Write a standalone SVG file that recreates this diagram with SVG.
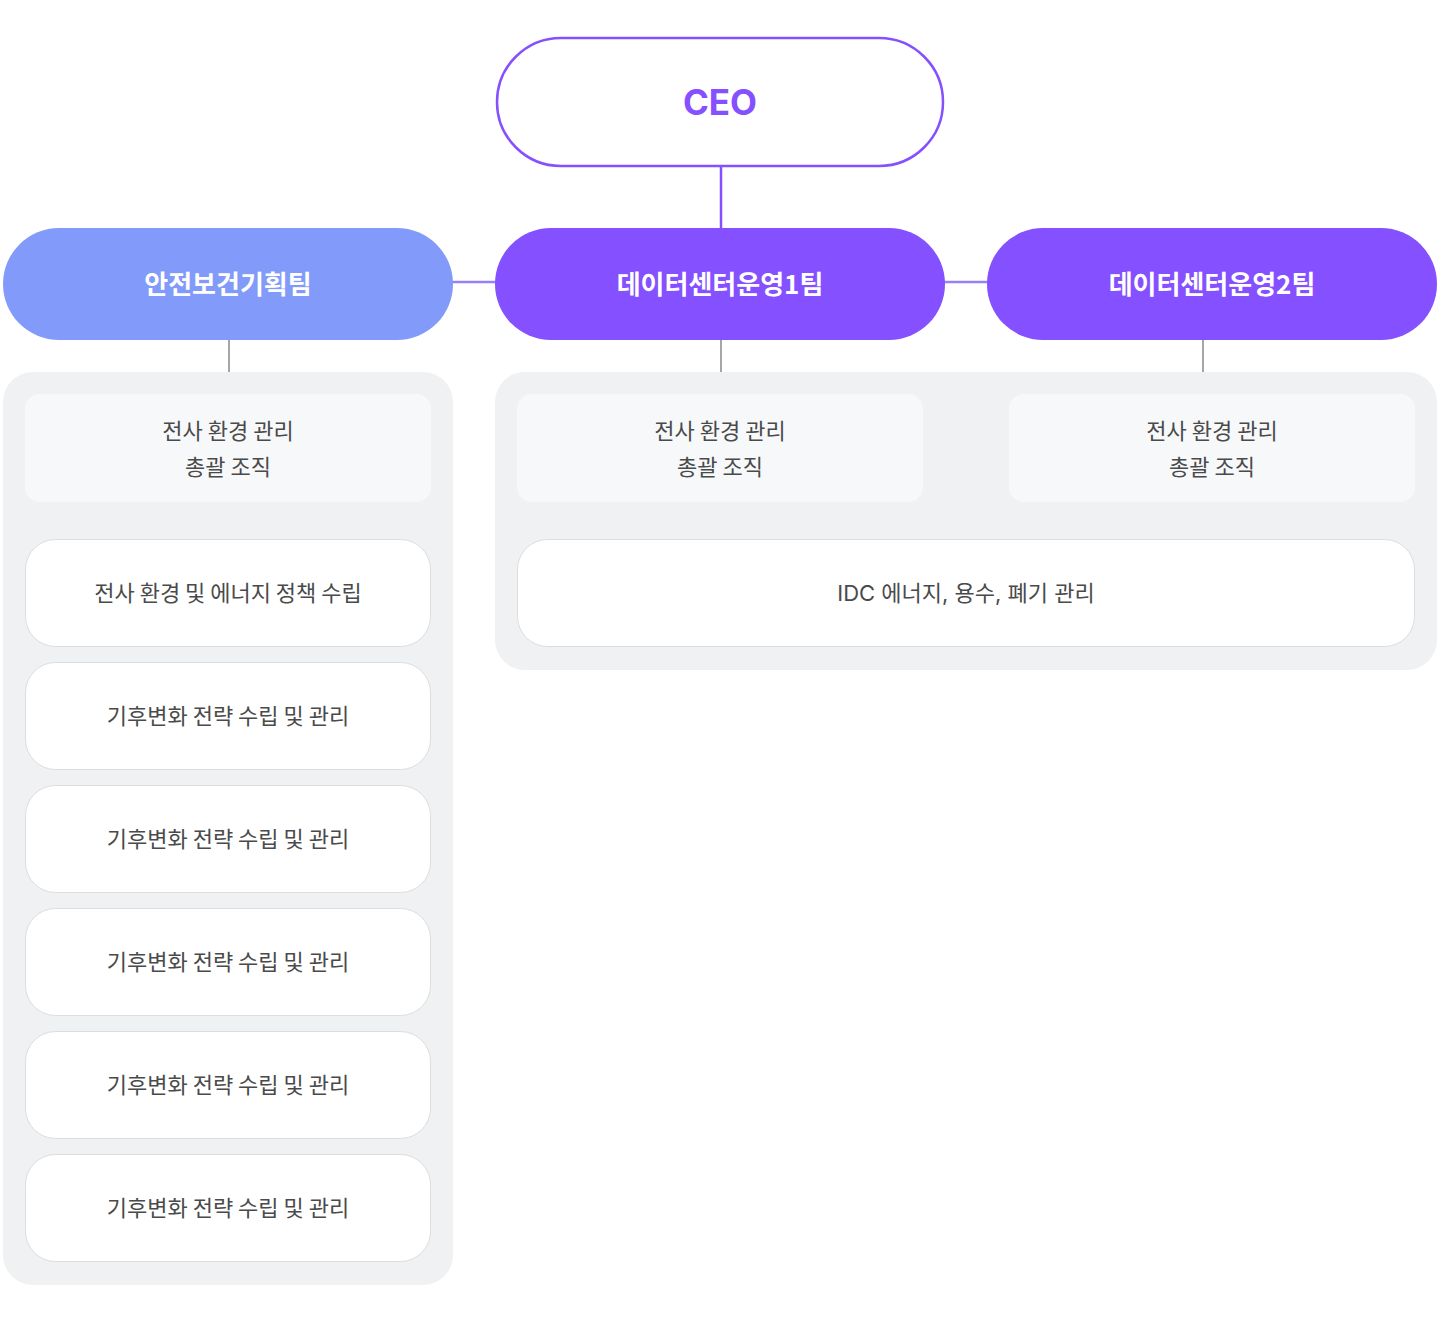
<svg xmlns="http://www.w3.org/2000/svg" width="1440" height="1321" viewBox="0 0 1440 1321">
<style>
.team{font-family:"Noto Sans CJK KR","Noto Sans",sans-serif;font-weight:700;font-size:26px;fill:#ffffff;text-anchor:middle}
.ceo{font-family:Inter,"Noto Sans",sans-serif;font-weight:700;font-size:35px;fill:#8550FF;text-anchor:middle}
.t{font-family:"Noto Sans CJK KR","Noto Sans",sans-serif;font-size:22px;fill:#4a4a4a;text-anchor:middle}
.idc{font-family:Inter,"Noto Sans CJK KR",sans-serif;font-size:22px;fill:#4a4a4a;text-anchor:middle}
.cont{fill:#F0F1F3}
.inner{fill:#F7F8FA}
.item{fill:#ffffff;stroke:#DCDDE0;stroke-width:1}
.cp{stroke:#8550FF;stroke-width:2.5;fill:none}
.ch{stroke:#9A80F5;stroke-width:2.5;fill:none}
.cg{stroke:#888888;stroke-width:1.5;fill:none}
</style>
<g id="connectors">
<line class="cp" x1="721" y1="166" x2="721" y2="229"/>
<line class="ch" x1="452" y1="282" x2="497" y2="282"/>
<line class="ch" x1="944" y1="282" x2="989" y2="282"/>
<line class="cg" x1="229" y1="339" x2="229" y2="373"/>
<line class="cg" x1="721" y1="339" x2="721" y2="373"/>
<line class="cg" x1="1203" y1="339" x2="1203" y2="373"/>
</g>
<g id="ceo">
<rect x="497" y="38" width="446" height="128" rx="64" fill="#ffffff" stroke="#8550FF" stroke-width="2.5"/>
<text class="ceo" x="720" y="114.5">CEO</text>
</g>
<g id="team-safety">
<rect x="3" y="228" width="450" height="112" rx="56" fill="#829BFA"/>
<text class="team" x="228" y="294">안전보건기획팀</text>
</g>
<g id="team-dc1">
<rect x="495" y="228" width="450" height="112" rx="56" fill="#8550FF"/>
<text class="team" x="720" y="294">데이터센터운영1팀</text>
</g>
<g id="team-dc2">
<rect x="987" y="228" width="450" height="112" rx="56" fill="#8550FF"/>
<text class="team" x="1212" y="294">데이터센터운영2팀</text>
</g>
<g id="group-safety">
<rect class="cont" x="3" y="372" width="450" height="913" rx="30"/>
<g id="safety-role">
<rect class="inner" x="25" y="394" width="406" height="108" rx="15"/>
<text class="t" x="228" y="439">전사 환경 관리</text>
<text class="t" x="228" y="475">총괄 조직</text>
</g>
<g id="safety-task1">
<rect class="item" x="25.5" y="539.5" width="405" height="107" rx="30"/>
<text class="t" x="228" y="601">전사 환경 및 에너지 정책 수립</text>
</g>
<g id="safety-task2">
<rect class="item" x="25.5" y="662.5" width="405" height="107" rx="30"/>
<text class="t" x="228" y="724">기후변화 전략 수립 및 관리</text>
</g>
<g id="safety-task3">
<rect class="item" x="25.5" y="785.5" width="405" height="107" rx="30"/>
<text class="t" x="228" y="847">기후변화 전략 수립 및 관리</text>
</g>
<g id="safety-task4">
<rect class="item" x="25.5" y="908.5" width="405" height="107" rx="30"/>
<text class="t" x="228" y="970">기후변화 전략 수립 및 관리</text>
</g>
<g id="safety-task5">
<rect class="item" x="25.5" y="1031.5" width="405" height="107" rx="30"/>
<text class="t" x="228" y="1093">기후변화 전략 수립 및 관리</text>
</g>
<g id="safety-task6">
<rect class="item" x="25.5" y="1154.5" width="405" height="107" rx="30"/>
<text class="t" x="228" y="1216">기후변화 전략 수립 및 관리</text>
</g>
</g>
<g id="group-dc">
<rect class="cont" x="495" y="372" width="942" height="298" rx="30"/>
<g id="dc1-role">
<rect class="inner" x="517" y="394" width="406" height="108" rx="15"/>
<text class="t" x="720" y="439">전사 환경 관리</text>
<text class="t" x="720" y="475">총괄 조직</text>
</g>
<g id="dc2-role">
<rect class="inner" x="1009" y="394" width="406" height="108" rx="15"/>
<text class="t" x="1212" y="439">전사 환경 관리</text>
<text class="t" x="1212" y="475">총괄 조직</text>
</g>
<g id="dc-task">
<rect class="item" x="517.5" y="539.5" width="897" height="107" rx="30"/>
<text class="idc" x="966" y="601">IDC 에너지, 용수, 폐기 관리</text>
</g>
</g>
</svg>
